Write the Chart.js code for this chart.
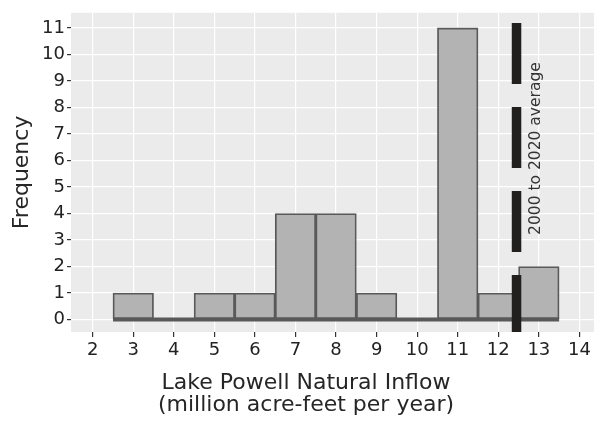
<!DOCTYPE html>
<html>
<head>
<meta charset="utf-8">
<script src="https://cdn.jsdelivr.net/npm/chart.js"></script>
<style>
  html, body { margin: 0; padding: 0; background: #ffffff; }
</style>
</head>
<body>
<canvas id="chart" width="594" height="421"></canvas>
<script>
// bin centres (million acre-feet per year) and number of years in each bin
const inflowBins = [3, 4, 5, 6, 7, 8, 9, 10, 11, 12, 13];
const yearCounts = [1, 0, 1, 1, 4, 4, 1, 0, 11, 1, 2];

const xTicks = [2, 3, 4, 5, 6, 7, 8, 9, 10, 11, 12, 13, 14];
const yTicks = [0, 1, 2, 3, 4, 5, 6, 7, 8, 9, 10, 11];

const averageInflow = 12.45;
const averageLabel = "2000 to 2020 average";
const xTitle = ["Lake Powell Natural Inflow", "(million acre-feet per year)"];
const yTitle = "Frequency";

const FONT = "'DejaVu Sans', sans-serif";

// -----------------------------
// panel background, average line, x title
// -----------------------------
const ggPanel = {
    id: "ggPanel",
    beforeDraw(chart) {
        const { ctx, chartArea: a } = chart;
        ctx.save();
        ctx.fillStyle = "#ebebeb";
        ctx.fillRect(a.left, a.top, a.right - a.left, a.bottom - a.top);
        ctx.restore();
    },
    afterDatasetsDraw(chart) {
        const { ctx, chartArea: a, scales } = chart;
        const x = scales.x.getPixelForValue(averageInflow);

        ctx.save();
        ctx.beginPath();
        ctx.rect(a.left, a.top, a.right - a.left, a.bottom - a.top);
        ctx.clip();
        ctx.strokeStyle = "#221f1f";
        ctx.lineWidth = 9.5;
        ctx.lineCap = "butt";
        ctx.setLineDash([61, 23]);
        ctx.lineDashOffset = 4;
        ctx.beginPath();
        ctx.moveTo(x, a.bottom);
        ctx.lineTo(x, a.top);
        ctx.stroke();
        ctx.restore();

        ctx.save();
        ctx.translate(x + 19, scales.y.getPixelForValue(6.45));
        ctx.rotate(-Math.PI / 2);
        ctx.fillStyle = "#333333";
        ctx.font = "15.5px " + FONT;
        ctx.textAlign = "center";
        ctx.textBaseline = "middle";
        ctx.fillText(averageLabel, 0, 0);
        ctx.restore();
    },
    afterDraw(chart) {
        const { ctx } = chart;
        ctx.save();
        ctx.fillStyle = "#262626";
        ctx.font = "22px " + FONT;
        ctx.textAlign = "center";
        ctx.textBaseline = "alphabetic";
        ctx.fillText(xTitle[0], 306, 389);
        ctx.fillText(xTitle[1], 306, 411);
        ctx.restore();
    }
};

const barData = inflowBins.map((b, i) => ({ x: b, y: yearCounts[i] }));
const baseline = [
    { x: inflowBins[0] - 0.5, y: 0 },
    { x: inflowBins[inflowBins.length - 1] + 0.5, y: 0 }
];

new Chart(document.getElementById("chart"), {
    type: "bar",
    data: {
        datasets: [
            {
                type: "line",
                data: baseline,
                borderColor: "#595959",
                borderWidth: 4,
                borderCapStyle: "butt",
                pointRadius: 0,
                order: 0
            },
            {
                data: barData,
                backgroundColor: "#b3b3b3",
                borderColor: "#595959",
                borderWidth: 1.8,
                borderSkipped: false,
                barPercentage: 1,
                categoryPercentage: 1,
                grouped: false,
                order: 1
            }
        ]
    },
    options: {
        responsive: false,
        animation: false,
        devicePixelRatio: 1,
        layout: { padding: { top: 7, right: 0, bottom: 0, left: 0 } },
        plugins: {
            legend: { display: false },
            tooltip: { enabled: false }
        },
        scales: {
            x: {
                type: "linear",
                min: 1.465,
                max: 14.36,
                offset: false,
                afterBuildTicks: s => { s.ticks = xTicks.map(v => ({ value: v })); },
                afterFit: s => { s.height = 89; },
                border: { display: false },
                grid: {
                    offset: false,
                    color: "#ffffff",
                    lineWidth: 1.2,
                    tickColor: "#333333",
                    tickLength: 5,
                    tickWidth: 1.2
                },
                ticks: {
                    color: "#222222",
                    font: { family: FONT, size: 18 },
                    padding: 3,
                    maxRotation: 0,
                    autoSkip: false
                }
            },
            y: {
                min: -0.47,
                max: 11.57,
                afterBuildTicks: s => { s.ticks = yTicks.map(v => ({ value: v })); },
                afterFit: s => { s.width = 71; },
                border: { display: false },
                grid: {
                    color: "#ffffff",
                    lineWidth: 1.2,
                    tickColor: "#333333",
                    tickLength: 4,
                    tickWidth: 1.2
                },
                ticks: {
                    color: "#222222",
                    font: { family: FONT, size: 18 },
                    padding: 2
                },
                title: {
                    display: true,
                    text: yTitle,
                    color: "#262626",
                    font: { family: FONT, size: 22 },
                    padding: { top: 9, bottom: 0 }
                }
            }
        }
    },
    plugins: [ggPanel]
});
</script>
</body>
</html>
